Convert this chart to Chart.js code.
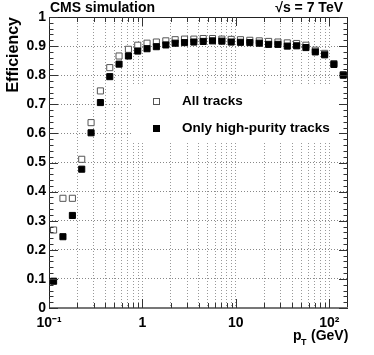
<!DOCTYPE html>
<html>
<head>
<meta charset="utf-8">
<script src="https://cdn.jsdelivr.net/npm/chart.js@4"></script>
<style>
  html, body { margin: 0; padding: 0; background: #fff; }
  #wrap { width: 374px; height: 355px; }
</style>
</head>
<body>
<div id="wrap"><canvas id="chart" width="374" height="355"></canvas></div>
<script>
// ===== Data =====
const ptBins = [0.112, 0.141, 0.178, 0.224, 0.282, 0.355, 0.447, 0.562, 0.708, 0.891,
  1.12, 1.41, 1.78, 2.24, 2.82, 3.55, 4.47, 5.62, 7.08, 8.91,
  11.2, 14.1, 17.8, 22.4, 28.2, 35.5, 44.7, 56.2, 70.8, 89.1, 112, 141];
const allTracks = [0.268, 0.377, 0.377, 0.511, 0.637, 0.746, 0.826, 0.866, 0.889, 0.903,
  0.910, 0.914, 0.918, 0.922, 0.924, 0.924, 0.926, 0.926, 0.924, 0.923,
  0.922, 0.920, 0.918, 0.916, 0.914, 0.911, 0.909, 0.903, 0.886, 0.875, 0.840, 0.802];
const highPurity = [0.092, 0.245, 0.318, 0.477, 0.602, 0.706, 0.795, 0.838, 0.866, 0.883,
  0.891, 0.898, 0.904, 0.910, 0.912, 0.914, 0.916, 0.918, 0.917, 0.914,
  0.913, 0.912, 0.910, 0.906, 0.906, 0.900, 0.901, 0.895, 0.880, 0.870, 0.837, 0.800];
const seriesLabels = ['All tracks', 'Only high-purity tracks'];
const xTickValues = [0.1, 0.2, 0.3, 0.4, 0.5, 0.6, 0.7, 0.8, 0.9,
  1, 2, 3, 4, 5, 6, 7, 8, 9, 10, 20, 30, 40, 50, 60, 70, 80, 90, 100];
const xTickLabels = { 0.1: '10⁻¹', 1: '1', 10: '10', 100: '10²' };
const xRange = [0.1, 158.5];
const yRange = [0, 1];

const FONT = "'Liberation Sans', Arial, sans-serif";

// ===== Plugin: frame, inner ticks, legend, texts =====
const decorPlugin = {
  id: 'decor',
  afterDraw(chart) {
    const { ctx, chartArea: a, scales } = chart;
    const xs = scales.x, ys = scales.y;
    ctx.save();

    // legend box
    ctx.fillStyle = '#fff';
    ctx.fillRect(131, 86, 212, 56);
    const ds = chart.data.datasets;
    const items = [
      { ds: ds[0], y: 101.5 },
      { ds: ds[1], y: 128.5 },
    ];
    ctx.font = `bold 13.5px ${FONT}`;
    ctx.textBaseline = 'middle';
    items.forEach(({ ds, y }) => {
      ctx.fillStyle = ds.backgroundColor;
      ctx.strokeStyle = ds.borderColor;
      ctx.lineWidth = 1;
      ctx.fillRect(153.5, y - 3, 6, 6);
      ctx.strokeRect(153.5, y - 3, 6, 6);
      ctx.fillStyle = '#000';
      ctx.fillText(ds.label, 182, y);
    });

    // frame
    ctx.strokeStyle = '#222';
    ctx.lineWidth = 1;
    ctx.beginPath();
    ctx.moveTo(a.left + 0.5, a.bottom); ctx.lineTo(a.left + 0.5, a.top + 0.5);
    ctx.lineTo(a.right - 0.5, a.top + 0.5); ctx.lineTo(a.right - 0.5, a.bottom);
    ctx.stroke();
    ctx.strokeStyle = '#777';
    ctx.lineWidth = 2;
    ctx.beginPath();
    ctx.moveTo(a.left, a.bottom); ctx.lineTo(a.right, a.bottom);
    ctx.stroke();

    // inner ticks
    ctx.strokeStyle = '#333';
    ctx.lineWidth = 1;
    ctx.beginPath();
    for (let i = 0; i <= 50; i++) {
      const py = Math.round(ys.getPixelForValue(i / 50)) + 0.5;
      const len = i % 5 === 0 ? 9 : 4.5;
      ctx.moveTo(a.left, py); ctx.lineTo(a.left + len, py);
      ctx.moveTo(a.right, py); ctx.lineTo(a.right - len, py);
    }
    xTickValues.forEach(v => {
      const px = Math.round(xs.getPixelForValue(v)) + 0.5;
      const len = xTickLabels[v] ? 9 : 5;
      ctx.moveTo(px, a.bottom); ctx.lineTo(px, a.bottom - len);
      ctx.moveTo(px, a.top); ctx.lineTo(px, a.top + len);
    });
    ctx.stroke();

    // header texts
    ctx.fillStyle = '#000';
    ctx.font = `bold 14px ${FONT}`;
    ctx.textBaseline = 'alphabetic';
    ctx.textAlign = 'left';
    ctx.fillText('CMS simulation', 50, 12);
    ctx.textAlign = 'right';
    ctx.fillText('√s = 7 TeV', 343, 12);

    // x axis title with subscript
    ctx.textAlign = 'left';
    ctx.fillText('p', 293, 340);
    ctx.font = `bold 9px ${FONT}`;
    ctx.fillText('T', 301, 345);
    ctx.font = `bold 14px ${FONT}`;
    ctx.fillText('(GeV)', 311, 340);

    ctx.restore();
  },
};

// ===== Chart =====
const chart = new Chart(document.getElementById('chart'), {
  type: 'scatter',
  data: {
    datasets: [
      {
        label: seriesLabels[0],
        data: ptBins.map((x, i) => ({ x, y: allTracks[i] })),
        pointStyle: 'rect',
        pointRadius: 4.3,
        borderWidth: 1,
        backgroundColor: '#fff',
        borderColor: '#555',
        order: 1,
      },
      {
        label: seriesLabels[1],
        data: ptBins.map((x, i) => ({ x, y: highPurity[i] })),
        pointStyle: 'rect',
        pointRadius: 4.3,
        borderWidth: 1,
        backgroundColor: '#000',
        borderColor: '#000',
        order: 0,
      },
    ],
  },
  options: {
    responsive: false,
    animation: false,
    devicePixelRatio: 1,
    layout: { padding: { left: 0, top: 17, right: 26, bottom: 0 } },
    plugins: { legend: { display: false }, tooltip: { enabled: false } },
    scales: {
      x: {
        type: 'logarithmic',
        min: xRange[0], max: xRange[1],
        afterFit: (s) => { s.height = 47; },
        afterBuildTicks: (s) => { s.ticks = xTickValues.map(v => ({ value: v, major: !!xTickLabels[v] })); },
        ticks: {
          autoSkip: false, maxRotation: 0, padding: 7,
          color: '#000', font: { family: FONT, size: 14, weight: 'bold' },
          callback: (v) => xTickLabels[v] || '',
        },
        grid: { color: '#999', drawTicks: false, tickLength: 0 },
        border: { display: false, dash: [1, 2] },
      },
      y: {
        min: yRange[0], max: yRange[1],
        afterFit: (s) => { s.width = 49; },
        ticks: {
          stepSize: 0.1, padding: 3,
          color: '#000', font: { family: FONT, size: 14, weight: 'bold' },
          callback: (v) => (v === 0 ? '0' : v === 1 ? '1' : v.toFixed(1)),
        },
        grid: { color: '#888', drawTicks: false, tickLength: 0 },
        border: { display: false, dash: [1, 2] },
        title: {
          display: true, text: 'Efficiency', align: 'end', color: '#000',
          font: { family: FONT, size: 16, weight: 'bold' },
          padding: { top: 4, bottom: 0 },
        },
      },
    },
  },
  plugins: [decorPlugin],
});
</script>
</body>
</html>
